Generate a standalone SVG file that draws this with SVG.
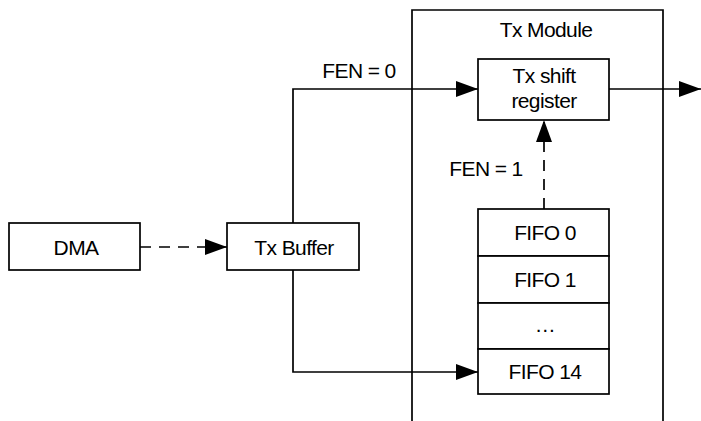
<svg xmlns="http://www.w3.org/2000/svg" width="701" height="421" viewBox="0 0 701 421">
<defs>
<style>
.box{fill:#fff;stroke:#000;stroke-width:1.7}
.ln{fill:none;stroke:#000;stroke-width:1.7}
.dash{stroke-dasharray:11,8}
text{font-family:"Liberation Sans",Arial,sans-serif;font-size:21px;letter-spacing:-0.6px;fill:#000;text-anchor:middle}
</style>
<marker id="ah" viewBox="0 0 22 16" refX="22" refY="8" markerWidth="22" markerHeight="16" markerUnits="userSpaceOnUse" orient="auto">
<path d="M0,0 L22,8 L0,16 Z" fill="#000"/>
</marker>
</defs>
<g id="tx-module">
<path class="ln" d="M412,421 V10 H663 V421"/>
<text x="546" y="37">Tx Module</text>
</g>
<g id="shift-register">
<rect class="box" x="478" y="59" width="131" height="61"/>
<text x="544" y="83">Tx shift</text>
<text x="544" y="108">register</text>
</g>
<g id="dma">
<rect class="box" x="9" y="223" width="131" height="47"/>
<text x="76" y="255">DMA</text>
</g>
<g id="tx-buffer">
<rect class="box" x="227" y="223" width="132" height="47"/>
<text x="294" y="255">Tx Buffer</text>
</g>
<g id="fifo0">
<rect class="box" x="478" y="209" width="131" height="47"/>
<text x="545" y="240">FIFO 0</text>
</g>
<g id="fifo1">
<rect class="box" x="478" y="256" width="131" height="47"/>
<text x="545" y="287">FIFO 1</text>
</g>
<g id="fifo-dots">
<rect class="box" x="478" y="303" width="131" height="46"/>
<text x="545" y="332">…</text>
</g>
<g id="fifo14">
<rect class="box" x="478" y="349" width="131" height="45"/>
<text x="545" y="379">FIFO 14</text>
</g>
<g id="connectors">
<path class="ln dash" d="M140,247 H227" marker-end="url(#ah)"/>
<path class="ln" d="M293,223 V89 H478" marker-end="url(#ah)"/>
<path class="ln" d="M293,270 V372 H478" marker-end="url(#ah)"/>
<path class="ln dash" d="M544,209 V120" marker-end="url(#ah)"/>
<path class="ln" d="M609,89 H701" marker-end="url(#ah)"/>
<text x="359" y="78">FEN = 0</text>
<text x="486" y="176">FEN = 1</text>
</g>
</svg>
